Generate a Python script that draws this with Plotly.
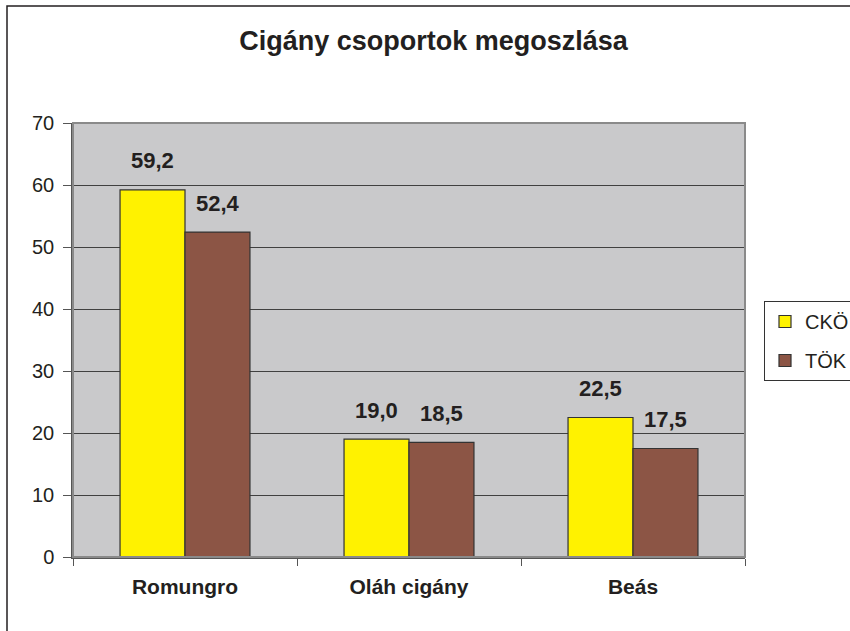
import plotly.graph_objects as go

categories = ["Romungro", "Oláh cigány", "Beás"]
cko_values = [59.2, 19.0, 22.5]
tok_values = [52.4, 18.5, 17.5]
cko_labels = ["59,2", "19,0", "22,5"]
tok_labels = ["52,4", "18,5", "17,5"]
y_ticks = [0, 10, 20, 30, 40, 50, 60, 70]

FONT = "Liberation Sans, Arial, sans-serif"
TXT = "#231F20"
YELLOW = "#FFF200"
BROWN = "#8C5545"

W, H = 850, 631
L, R, T, B = 73, 745, 123, 557
pw, ph = R - L, B - T

fig = go.Figure()
fig.add_trace(go.Bar(name="CKÖ", x=categories, y=cko_values, legendgroup="a",
                     marker=dict(color=YELLOW, line=dict(color="#333333", width=1.2))))
fig.add_trace(go.Bar(name="TÖK", x=categories, y=tok_values, legendgroup="b",
                     marker=dict(color=BROWN, line=dict(color="#333333", width=1.2))))

annotations = []
for i, c in enumerate(categories):
    for vals, labs, shift in ((cko_values, cko_labels, -32.5), (tok_values, tok_labels, 32.5)):
        annotations.append(dict(x=c, y=vals[i], text="<b>" + labs[i] + "</b>", xref="x", yref="y",
                                showarrow=False, xshift=shift, yshift=29,
                                font=dict(family=FONT, size=22, color=TXT),
                                xanchor="center", yanchor="middle"))

fig.update_layout(
    width=W, height=H,
    paper_bgcolor="white", plot_bgcolor="#C9C9CB",
    margin=dict(l=L, r=W - R, t=T, b=H - B, autoexpand=False),
    barmode="group", bargap=0.42, bargroupgap=0,
    title=dict(text="<b>Cigány csoportok megoszlása</b>", x=0.51, xref="container", xanchor="center",
               y=1 - 41 / H, yref="container", yanchor="middle",
               font=dict(family=FONT, size=27, color=TXT)),
    font=dict(family=FONT, color=TXT),
    showlegend=True,
    legend=dict(x=(764 - L) / pw, xanchor="left", y=(B - 301) / ph, yanchor="top",
                bgcolor="white", bordercolor="#333333", borderwidth=1,
                font=dict(family=FONT, size=20, color=TXT),
                itemwidth=30, tracegroupgap=10),
    annotations=annotations,
    shapes=[
        dict(type="rect", xref="paper", yref="paper",
             x0=(7 - L) / pw, x1=(W + 20 - L) / pw, y0=-(H + 20 - B) / ph, y1=(B - 6) / ph,
             line=dict(color="#231F20", width=1.5), fillcolor="rgba(0,0,0,0)", layer="below"),
        dict(type="rect", xref="paper", yref="paper", x0=0, x1=1, y0=0, y1=1,
             line=dict(color="#8A8A8A", width=2), fillcolor="rgba(0,0,0,0)", layer="above"),
    ],
)
fig.update_xaxes(showgrid=False, ticks="outside", tickson="boundaries", ticklen=7,
                 tickcolor="#555555", showline=True, linecolor="#555555", linewidth=1.5,
                 tickfont=dict(family=FONT, size=21, color=TXT, weight="bold"),
                 ticklabelstandoff=10)
fig.update_yaxes(range=[0, 70], tickvals=y_ticks, showgrid=True, gridcolor="#404040", gridwidth=1,
                 ticks="outside", ticklen=8, tickcolor="#555555", showline=True,
                 linecolor="#555555", linewidth=1.5, zeroline=False,
                 tickfont=dict(family=FONT, size=20, color=TXT), ticklabelstandoff=5)

fig.write_html("out.html", config={"displayModeBar": False},
               post_script="document.body.style.margin='0';")
